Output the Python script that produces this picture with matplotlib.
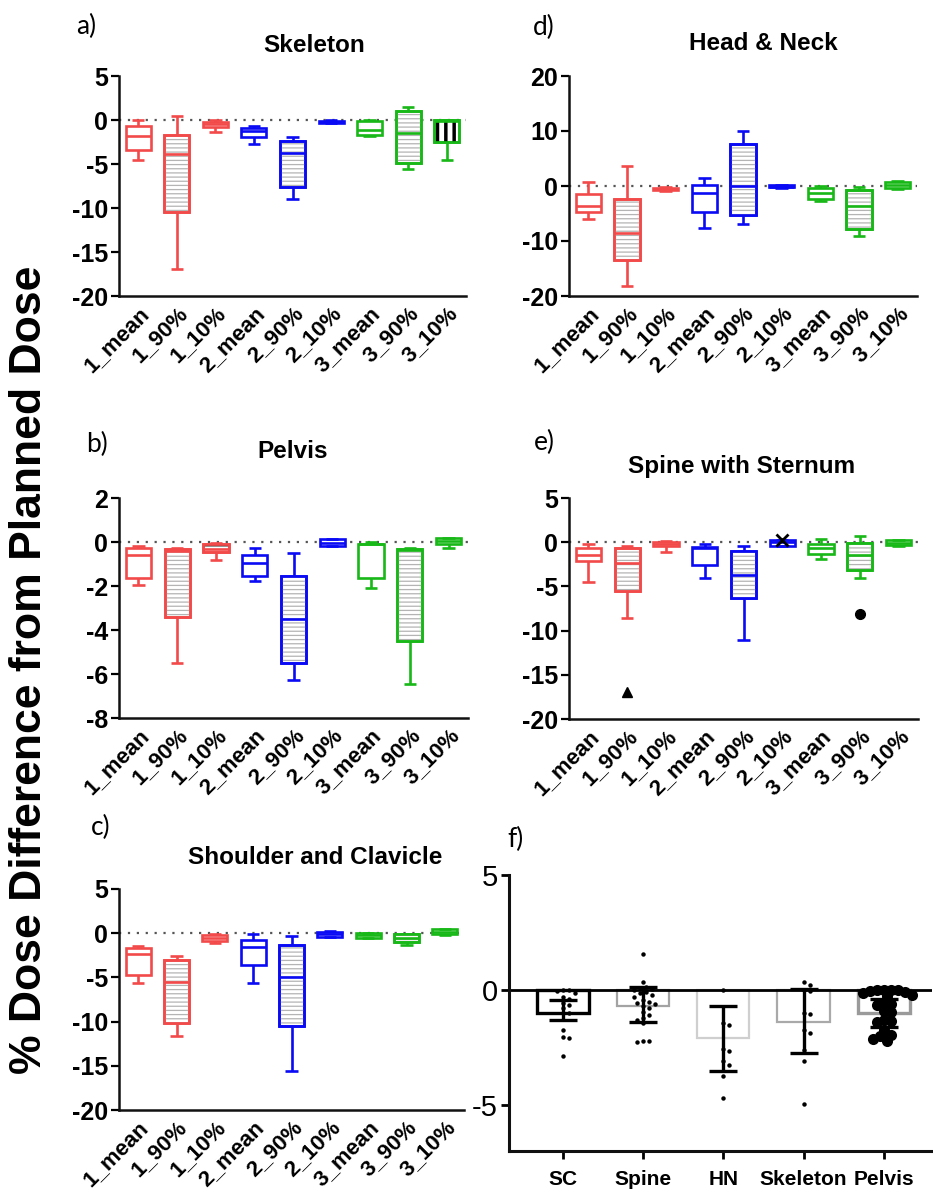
import matplotlib
matplotlib.use('Agg')
import matplotlib.pyplot as plt
from matplotlib.patches import PathPatch
import numpy as np

plt.rcParams['font.family'] = ['Liberation Sans', 'DejaVu Sans']
plt.rcParams['axes.unicode_minus'] = False
plt.rcParams['hatch.linewidth'] = 0.9

# ---------------- data ----------------
categories = ['1_mean', '1_90%', '1_10%', '2_mean', '2_90%', '2_10%', '3_mean', '3_90%', '3_10%']

# a) Skeleton
skel_lo  = [-4.5, -16.9, -1.4, -2.7, -9.0, -0.35, -1.8, -5.6, -4.5]
skel_q1  = [-3.4, -10.4, -0.75, -1.9, -7.6, -0.3, -1.7, -4.9, -2.5]
skel_med = [-1.8, -3.9, -0.5, -1.3, -3.8, -0.2, -1.1, -1.5, -0.1]
skel_q3  = [-0.65, -1.7, -0.2, -0.9, -2.4, -0.1, -0.15, 1.0, -0.05]
skel_hi  = [0.0, 0.5, 0.0, -0.7, -1.9, -0.05, 0.0, 1.5, 0.05]

# d) Head & Neck
hn_lo  = [-6.0, -18.2, -0.9, -7.7, -6.9, -0.3, -2.7, -9.0, -0.5]
hn_q1  = [-4.7, -13.5, -0.8, -4.8, -5.3, -0.2, -2.4, -7.8, -0.4]
hn_med = [-3.6, -8.6, -0.55, -1.2, 0.0, -0.1, -1.2, -3.6, 0.2]
hn_q3  = [-1.45, -2.4, -0.3, 0.2, 7.6, 0.1, -0.4, -0.7, 0.8]
hn_hi  = [0.8, 3.7, -0.2, 1.4, 10.0, 0.2, 0.0, -0.2, 1.0]

# b) Pelvis
pel_lo  = [-1.95, -5.5, -0.8, -1.75, -6.27, -0.2, -2.1, -6.45, -0.25]
pel_q1  = [-1.65, -3.4, -0.45, -1.55, -5.5, -0.18, -1.65, -4.5, -0.1]
pel_med = [-0.6, -0.4, -0.33, -0.95, -3.5, -0.05, -0.1, -0.38, 0.05]
pel_q3  = [-0.28, -0.33, -0.1, -0.6, -1.55, 0.12, -0.08, -0.33, 0.17]
pel_hi  = [-0.18, -0.25, -0.03, -0.25, -0.48, 0.15, 0.0, -0.25, 0.2]

# e) Spine with Sternum
sp_lo  = [-4.5, -8.6, -1.1, -4.1, -11.1, -0.4, -1.95, -4.0, -0.45]
sp_q1  = [-2.15, -5.5, -0.45, -2.6, -6.3, -0.4, -1.3, -3.1, -0.35]
sp_med = [-1.5, -2.35, -0.2, -0.7, -3.7, 0.0, -0.65, -1.4, -0.1]
sp_q3  = [-0.7, -0.7, 0.0, -0.55, -1.0, 0.2, -0.15, -0.07, 0.2]
sp_hi  = [-0.2, -0.4, 0.1, -0.2, -0.45, 0.3, 0.4, 0.7, 0.2]
sp_out_idx = [1, 5, 7]
sp_out_val = [-17.0, 0.25, -8.1]
sp_out_mk  = ['^', 'x', 'o']

# c) Shoulder and Clavicle
sc_lo  = [-5.65, -11.6, -1.1, -5.65, -15.6, -0.4, -0.55, -1.35, -0.15]
sc_q1  = [-4.75, -10.2, -0.87, -3.6, -10.5, -0.4, -0.5, -1.05, -0.1]
sc_med = [-2.4, -5.5, -0.5, -1.55, -4.95, -0.1, -0.2, -0.55, 0.15]
sc_q3  = [-1.65, -3.05, -0.2, -0.8, -1.3, 0.15, 0.0, -0.1, 0.45]
sc_hi  = [-1.45, -2.55, -0.1, -0.05, -0.3, 0.2, 0.05, -0.05, 0.5]

# f) summary
f_cats   = ['SC', 'Spine', 'HN', 'Skeleton', 'Pelvis']
f_mean   = [-0.99, -0.70, -2.10, -1.38, -1.00]
f_err_hi = [-0.43, 0.14, -0.68, 0.03, -0.40]
f_err_lo = [-1.29, -1.41, -3.51, -2.72, -1.60]
f_pts_sc = [0.0, 0.0, -0.05, -0.15, -0.3, -0.4, -0.55, -0.65, -0.8, -1.0, -1.75, -2.05, -2.1, -2.85]
f_pts_spine = [1.55, 0.36, 0.15, 0.1, 0.05, 0.0, -0.1, -0.15, -0.2, -0.3, -0.45, -0.5, -0.55,
               -0.6, -0.7, -0.8, -0.95, -1.1, -1.2, -1.3, -1.45, -2.2, -2.2, -2.25]
f_pts_hn = [0.0, -1.45, -1.5, -2.55, -2.65, -3.1, -3.25, -3.75, -4.7]
f_pts_skel = [0.36, 0.22, 0.0, -0.05, -0.99, -1.05, -1.74, -1.85, -2.6, -3.07, -4.97]
f_pts_pelvis = [0, 0, 0, 0, -0.05, -0.1, -0.15, -0.2, -0.25, -0.55, -0.6, -0.65,
                -0.9, -0.95, -1.3, -1.35, -1.4, -1.75, -1.95, -2.0, -2.15, -2.2]

# ---------------- styles ----------------
RED, BLUE, GREEN = '#f24a4a', '#0a0af5', '#17b817'
box_colors = [RED] * 3 + [BLUE] * 3 + [GREEN] * 3
GRAYH = ('#b4b4b4', '----', 0.9)
default_hatch = [None, GRAYH, None, None, GRAYH, None, None, GRAYH, None]

W, H = 933, 1201
fig = plt.figure(figsize=(W / 100, H / 100), dpi=100)


def add_ax(l, t, r, b):
    return fig.add_axes([l / W, 1 - b / H, (r - l) / W, (b - t) / H])


def style_axes(ax, lw=1.8):
    for s in ['top', 'right']:
        ax.spines[s].set_visible(False)
    for s in ['left', 'bottom']:
        ax.spines[s].set_linewidth(lw)
        ax.spines[s].set_color('#111111')


def box_panel(ax, lo, q1, med, q3, hi, ylim, yticks, hatches):
    pos = np.arange(len(categories))
    stats = [dict(whislo=a, q1=b, med=c, q3=d, whishi=e, fliers=[])
             for a, b, c, d, e in zip(lo, q1, med, q3, hi)]
    bp = ax.bxp(stats, positions=pos, widths=0.65, capwidths=0.32,
                patch_artist=True, showfliers=False)
    lw = 1.9
    for i, box in enumerate(bp['boxes']):
        col = box_colors[i]
        box.set_facecolor('white')
        box.set_edgecolor(col)
        box.set_linewidth(lw)
        box.set_zorder(2)
        for ln in (bp['whiskers'][2 * i], bp['whiskers'][2 * i + 1],
                   bp['caps'][2 * i], bp['caps'][2 * i + 1]):
            ln.set_color(col)
            ln.set_linewidth(lw)
            ln.set_solid_capstyle('butt')
        md = bp['medians'][i]
        md.set_color(col)
        md.set_linewidth(lw)
        md.set_zorder(2.4)
        if hatches[i] is not None:
            hc, hp, hlw = hatches[i]
            hpatch = PathPatch(box.get_path(), transform=ax.transData,
                               facecolor='none', edgecolor=hc, lw=0,
                               hatch=hp, zorder=2.1)
            try:
                hpatch.set_hatch_linewidth(hlw)
            except Exception:
                pass
            ax.add_patch(hpatch)
            ax.add_patch(PathPatch(box.get_path(), transform=ax.transData,
                                   facecolor='none', edgecolor=col, lw=lw,
                                   zorder=2.2))
    ax.axhline(0, color='#555555', ls=(0, (1, 3)), lw=1.6, zorder=1)
    ax.set_xlim(-0.5, 8.5)
    ax.set_ylim(*ylim)
    ax.set_yticks(yticks)
    ax.set_yticklabels([str(t) for t in yticks], fontsize=18, fontweight='bold')
    ax.set_xticks(pos)
    ax.set_xticklabels(categories, rotation=45, ha='right', va='top',
                       rotation_mode='anchor', fontsize=16, fontweight='bold')
    ax.tick_params(axis='x', length=0, pad=5)
    ax.tick_params(axis='y', length=6, width=1.6, pad=2)
    style_axes(ax)


ax_a = add_ax(119, 76, 466, 296)
h_a = list(default_hatch)
h_a[8] = ('black', '||', 2.5)
box_panel(ax_a, skel_lo, skel_q1, skel_med, skel_q3, skel_hi, (-20, 5),
          [5, 0, -5, -10, -15, -20], h_a)

ax_d = add_ax(569, 76, 917, 296)
box_panel(ax_d, hn_lo, hn_q1, hn_med, hn_q3, hn_hi, (-20, 20),
          [20, 10, 0, -10, -20], default_hatch)

ax_b = add_ax(119, 498, 468, 718)
h_b = list(default_hatch)
h_b[2] = ('#333333', '--', 1.0)
box_panel(ax_b, pel_lo, pel_q1, pel_med, pel_q3, pel_hi, (-8, 2),
          [2, 0, -2, -4, -6, -8], h_b)

ax_e = add_ax(569, 498, 918, 719)
box_panel(ax_e, sp_lo, sp_q1, sp_med, sp_q3, sp_hi, (-20, 5),
          [5, 0, -5, -10, -15, -20], default_hatch)
for i, v, m in zip(sp_out_idx, sp_out_val, sp_out_mk):
    ax_e.plot([i], [v], marker=m, color='black', ms=7 if m != 'x' else 8,
              mew=2 if m == 'x' else 1, ls='none', zorder=3)

ax_c = add_ax(119, 889, 464, 1110)
box_panel(ax_c, sc_lo, sc_q1, sc_med, sc_q3, sc_hi, (-20, 5),
          [5, 0, -5, -10, -15, -20], default_hatch)

# ---------------- f) ----------------
ax_f = add_ax(509, 875, 932, 1151)
f_xlim = (-0.67, 4.6)
f_ylim = (-7, 5)
ax_f.set_xlim(*f_xlim)
ax_f.set_ylim(*f_ylim)
xf = np.arange(len(f_cats))
f_edge = ['black', '#a3a3a3', '#cfcfcf', '#a9a9a9', '#9a9a9a']
f_blw = [2.4, 1.6, 1.6, 1.6, 2.4]
ax_f.bar(xf, f_mean, width=0.65, facecolor='white', edgecolor=f_edge,
         linewidth=f_blw, zorder=2)
ax_f.axhline(0, color='black', lw=2, zorder=2.5)
center = (np.array(f_err_hi) + np.array(f_err_lo)) / 2
half = (np.array(f_err_hi) - np.array(f_err_lo)) / 2
ax_f.errorbar(xf, center, yerr=half, fmt='none', ecolor='black', elinewidth=2.4,
              capsize=10, capthick=2.4, zorder=3)

ax_px_w = (932 - 509)
ax_px_h = (1151 - 875)
sx = ax_px_w / (f_xlim[1] - f_xlim[0])
sy = ax_px_h / (f_ylim[1] - f_ylim[0])


def swarm(vals, xc, step, mindist):
    placed = []
    xs = []
    cands = [0.0]
    for j in range(1, 60):
        cands += [j * step, -j * step]
    for v in vals:
        yp = v * sy
        off = 0.0
        for off in cands:
            if all((off - px) ** 2 + (yp - py) ** 2 >= mindist ** 2 for px, py in placed):
                break
        placed.append((off, yp))
        xs.append(xc + off / sx)
    return xs


pts_all = [f_pts_sc, f_pts_spine, f_pts_hn, f_pts_skel, f_pts_pelvis]
for i, pts in enumerate(pts_all):
    big = (i == 4)
    if big:
        xs = swarm(pts, xf[i], 3.5, 6.5)
    else:
        xs = swarm(pts, xf[i], 3.0, 5.5)
    ax_f.plot(xs, pts, 'o', color='black', ms=8 if big else 3.2, mew=0,
              ls='none', zorder=4)

ax_f.set_yticks([5, 0, -5])
ax_f.set_yticklabels(['5', '0', '-5'], fontsize=21)
ax_f.set_xticks(xf)
ax_f.set_xticklabels(f_cats, fontsize=15, fontweight='bold')
ax_f.tick_params(axis='x', length=6, width=2, pad=8)
ax_f.tick_params(axis='y', length=6, width=2, pad=2)
style_axes(ax_f, lw=2.2)

# ---------------- titles / labels ----------------
def ftext(x, y, s, **kw):
    fig.text(x / W, 1 - y / H, s, ha='center', va='center', **kw)


ftext(314, 45, 'Skeleton', fontsize=17.5, fontweight='bold')
ftext(763, 44, 'Head & Neck', fontsize=17.5, fontweight='bold')
ftext(293, 451, 'Pelvis', fontsize=17.5, fontweight='bold')
ftext(742, 467, 'Spine with Sternum', fontsize=17.5, fontweight='bold')
ftext(315, 858, 'Shoulder and Clavicle', fontsize=17.5, fontweight='bold')

letter_kw = dict(fontsize=19, family=['Lato', 'DejaVu Sans'])
ftext(86, 26, 'a)', **letter_kw)
ftext(544, 27, 'd)', **letter_kw)
ftext(97, 444, 'b)', **letter_kw)
ftext(544, 442, 'e)', **letter_kw)
ftext(101, 827, 'c)', **letter_kw)
ftext(516, 839, 'f)', **letter_kw)

fig.text(30 / W, 1 - 670 / H, '% Dose Difference from Planned Dose', rotation=90,
         ha='center', va='center', fontsize=32, fontweight='bold')

fig.savefig('out.png', dpi=100)
